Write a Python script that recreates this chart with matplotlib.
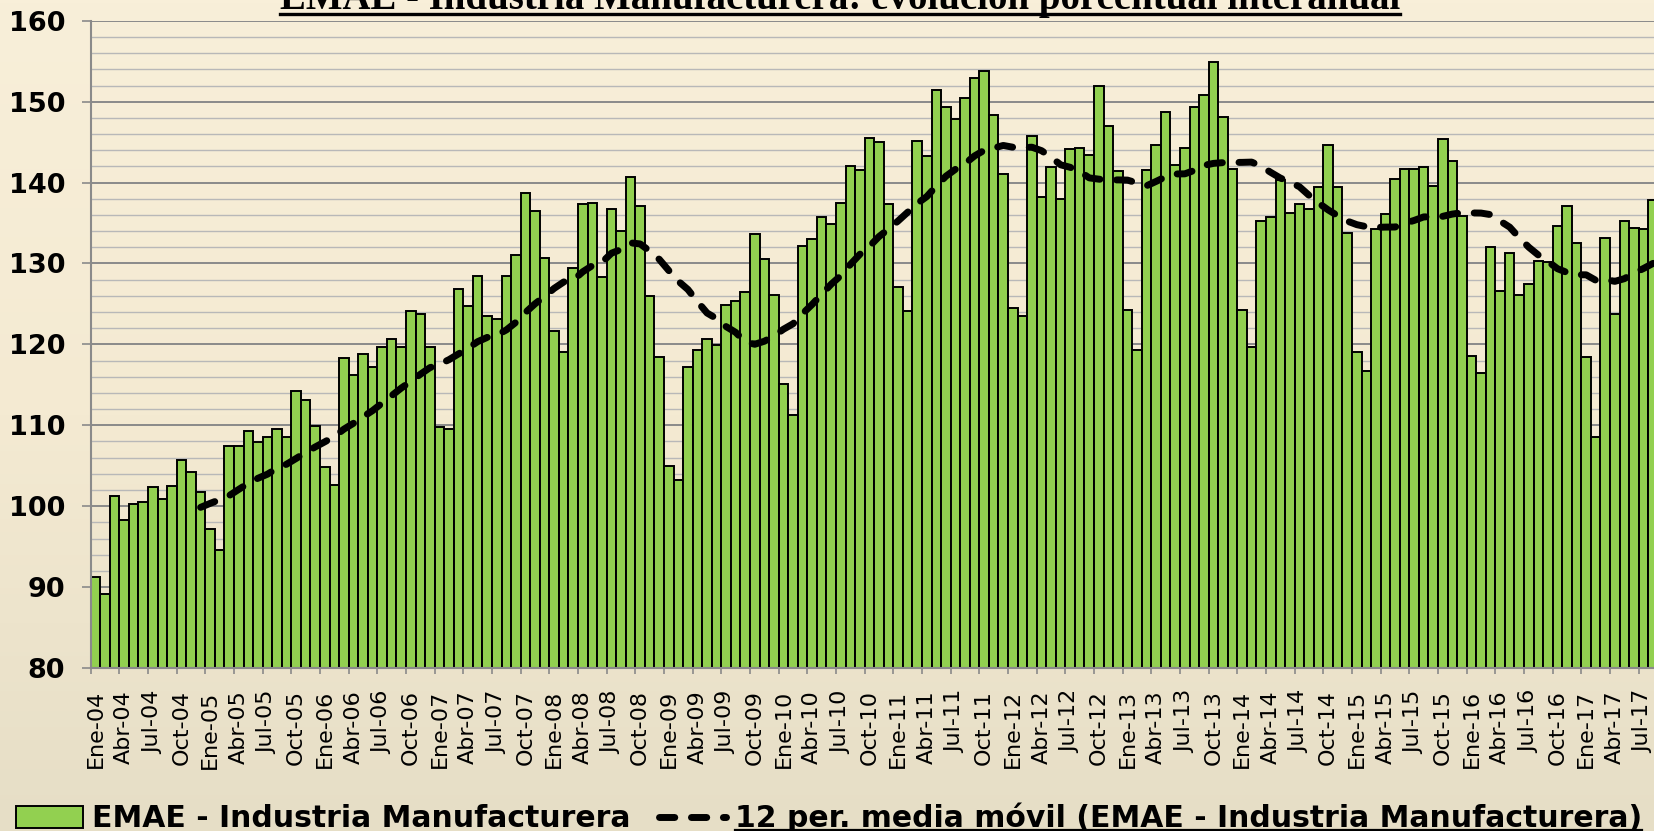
import matplotlib.pyplot as plt
import numpy as np
import pandas as pd
from matplotlib.colors import LinearSegmentedColormap
from matplotlib.lines import Line2D

# Meses y años del eje
meses = ['Ene', 'Feb', 'Mar', 'Abr', 'May', 'Jun', 'Jul', 'Ago', 'Sep', 'Oct', 'Nov', 'Dic']
anios = ['04', '05', '06', '07', '08', '09', '10', '11', '12', '13', '14', '15', '16', '17']

# EMAE - Industria Manufacturera
emae_2004 = [91.3, 89.2, 101.3, 98.3, 100.3, 100.5, 102.4, 100.9, 102.5, 105.7, 104.2, 101.7]
emae_2005 = [97.2, 94.6, 107.5, 107.5, 109.3, 107.9, 108.5, 109.6, 108.6, 114.2, 113.1, 109.9]
emae_2006 = [104.8, 102.6, 118.3, 116.2, 118.8, 117.2, 119.7, 120.7, 119.7, 124.1, 123.7, 119.7]
emae_2007 = [109.8, 109.5, 126.8, 124.8, 128.4, 123.5, 123.1, 128.4, 131.0, 138.7, 136.5, 130.7]
emae_2008 = [121.7, 119.0, 129.5, 137.3, 137.5, 128.3, 136.7, 134.0, 140.7, 137.1, 126.0, 118.4]
emae_2009 = [105.0, 103.2, 117.2, 119.3, 120.7, 119.9, 124.9, 125.4, 126.5, 133.7, 130.5, 126.1]
emae_2010 = [115.1, 111.3, 132.2, 133.0, 135.8, 134.9, 137.5, 142.0, 141.6, 145.5, 145.0, 137.3]
emae_2011 = [127.1, 124.1, 145.2, 143.3, 151.5, 149.4, 147.8, 150.5, 152.9, 153.8, 148.4, 141.1]
emae_2012 = [124.5, 123.5, 145.8, 138.2, 141.9, 138.0, 144.1, 144.3, 143.4, 151.9, 147.0, 141.4]
emae_2013 = [124.2, 119.3, 141.6, 144.7, 148.7, 142.2, 144.3, 149.4, 150.8, 154.9, 148.1, 141.7]
emae_2014 = [124.3, 119.7, 135.3, 135.7, 140.3, 136.3, 137.3, 136.7, 139.4, 144.7, 139.4, 133.8]
emae_2015 = [119.0, 116.7, 134.3, 136.1, 140.4, 141.7, 141.7, 141.9, 139.6, 145.4, 142.7, 135.9]
emae_2016 = [118.6, 116.5, 132.0, 126.6, 131.3, 126.1, 127.5, 130.3, 130.2, 134.6, 137.1, 132.5]
emae_2017 = [118.5, 108.5, 133.2, 123.7, 135.3, 134.4, 134.3, 137.9]

valores = (emae_2004 + emae_2005 + emae_2006 + emae_2007 + emae_2008 + emae_2009 + emae_2010
           + emae_2011 + emae_2012 + emae_2013 + emae_2014 + emae_2015 + emae_2016 + emae_2017)
fechas = [f'{m}-{a}' for a in anios for m in meses][:len(valores)]
media_movil = pd.Series(valores).rolling(12).mean()

W, H = 1654, 831
fig = plt.figure(figsize=(W / 100, H / 100), dpi=100)

# Fondo degradado
bg = fig.add_axes([0, 0, 1, 1], zorder=-10)
grad = np.linspace(0, 1, 256).reshape(-1, 1)
cmap = LinearSegmentedColormap.from_list('fondo', ['#f8efd9', '#f4ead2', '#e6dec6'])
bg.imshow(grad, aspect='auto', cmap=cmap, extent=[0, 1, 0, 1], origin='upper')
bg.axis('off')

ax = fig.add_axes([90.7 / W, 1 - 668 / H, 1 - 90.7 / W, (668 - 20.8) / H])
ax.set_facecolor('none')

x = np.arange(len(valores))
barras = ax.bar(x, valores, width=1.0, color='#92d050', edgecolor='black', linewidth=1.4,
                label='EMAE - Industria Manufacturera', zorder=2)
linea, = ax.plot(x, media_movil, color='black', lw=5, dashes=(2.2, 2.4), dash_capstyle='round',
                 label='12 per. media móvil (EMAE - Industria Manufacturera)', zorder=3)

ax.set_ylim(80, 160)
ax.set_xlim(-0.5, 163.1)
ax.set_yticks(range(80, 161, 10))
ax.set_yticks(range(80, 161, 2), minor=True)
ax.grid(axis='y', which='major', color='#8a8a8a', lw=1.4)
ax.grid(axis='y', which='minor', color='#b8b8b8', lw=1.0)
ax.set_axisbelow(True)

ax.set_xticks(x[::3], labels=fechas[::3], rotation=90)
ax.set_xticks(np.arange(-0.5, len(valores), 3), minor=True)
ax.tick_params(axis='x', which='major', length=0, pad=16, labelsize=16)
ax.tick_params(axis='x', which='minor', length=4.5, width=1.2, color='#8a8a8a')
ax.tick_params(axis='y', which='major', length=6.5, width=1.2, color='#8a8a8a', pad=12, labelsize=19.5)
ax.tick_params(axis='y', which='minor', length=0)
for lbl in ax.get_yticklabels():
    lbl.set_fontweight('bold')

for s in ['top', 'right']:
    ax.spines[s].set_visible(False)
for s in ['left', 'bottom']:
    ax.spines[s].set_color('#8a8a8a')
    ax.spines[s].set_linewidth(1.5)

titulo = fig.text(840 / W, 1 - 9.5 / H, 'EMAE - Industria Manufacturera: evolución porcentual interanual',
                  ha='center', va='baseline', fontsize=28, fontweight='bold', family='Liberation Serif')

leg = fig.legend(handles=[barras, linea], loc='lower left', bbox_to_anchor=(16 / W, -0.003), ncol=2,
                 frameon=False, prop={'weight': 'bold', 'size': 21.5}, handlelength=2.25, handleheight=0.72,
                 handletextpad=0.3, columnspacing=0.95, borderpad=0, borderaxespad=0)

# Subrayados
fig.canvas.draw()
renderer = fig.canvas.get_renderer()


def subrayar(t, offset, lw):
    bb = t.get_window_extent(renderer)
    _, _, d = renderer.get_text_width_height_descent(t.get_text(), t.get_fontproperties(), ismath=False)
    y = (bb.y0 + d - offset) / H
    fig.add_artist(Line2D([bb.x0 / W, bb.x1 / W], [y, y], transform=fig.transFigure, color='black', lw=lw))


subrayar(titulo, 4.5, 2.4)
for t in leg.get_texts():
    subrayar(t, 3, 1.6)

fig.savefig('out.png', dpi=100)
